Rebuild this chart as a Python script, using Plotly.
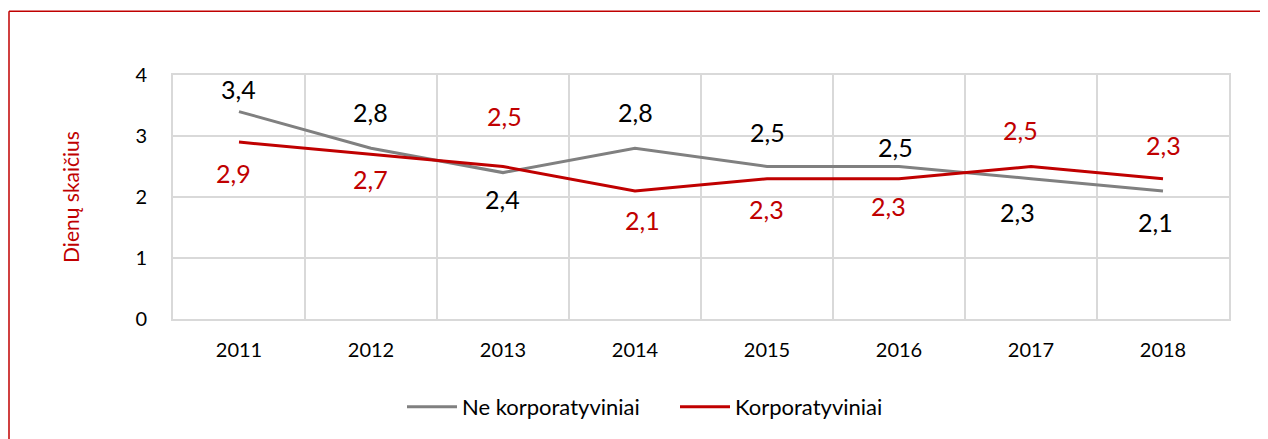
import plotly.graph_objects as go

years = ["2011", "2012", "2013", "2014", "2015", "2016", "2017", "2018"]
ne_korp = [3.4, 2.8, 2.4, 2.8, 2.5, 2.5, 2.3, 2.1]
korp = [2.9, 2.7, 2.5, 2.1, 2.3, 2.3, 2.5, 2.3]

# label offsets in pixels (positive = up / right), as placed in the original
ne_dy = [22, 35, -27, 35, 34, 19, -34, -32]
ne_dx = [-1, -1, -1, 0, 0, -4, -14, -8]
korp_dy = [-32, -26, 50, -30, -31, -28, 36, 33]
korp_dx = [-6, -1, 1, 7, -1, -11, -11, 0]

xs = list(range(len(years)))
FONT = "Lato, 'Liberation Sans', sans-serif"
GRAY = "#808080"
RED = "#c00000"

def fmt(v):
    return f"{v:.1f}".replace(".", ",")

fig = go.Figure()
fig.add_trace(go.Scatter(
    x=xs, y=ne_korp, name="Ne korporatyviniai", mode="lines",
    line=dict(color=GRAY, width=3),
))
fig.add_trace(go.Scatter(
    x=xs, y=korp, name="Korporatyviniai", mode="lines",
    line=dict(color=RED, width=3),
))

LBL_CORR = -1  # text box centre vs digit centre
for x, v, dy, dx in zip(xs, ne_korp, ne_dy, ne_dx):
    fig.add_annotation(x=x, y=v, text=fmt(v), showarrow=False,
                       xshift=dx, yshift=dy - LBL_CORR,
                       font=dict(size=25, color="#000000", family=FONT))
for x, v, dy, dx in zip(xs, korp, korp_dy, korp_dx):
    fig.add_annotation(x=x, y=v, text=fmt(v), showarrow=False,
                       xshift=dx, yshift=dy - LBL_CORR,
                       font=dict(size=25, color=RED, family=FONT))

# page has an 8px body margin; compensate so the figure lines up with the 1268x439 view
OFF = 8
W, H = 1268 - OFF, 439 - OFF
L, R, T, B = 173 - OFF, 1229 - OFF, 75 - OFF, 320 - OFF
pw, ph = R - L, B - T

fig.update_layout(
    width=W, height=H,
    margin=dict(l=L, r=W - R, t=T, b=H - B),
    paper_bgcolor="white", plot_bgcolor="white",
    font=dict(family=FONT, size=20, color="#000000"),
    showlegend=True,
    legend=dict(orientation="h", x=(399 - L - 5) / pw, xanchor="left",
                y=(B - (407 - OFF)) / ph, yanchor="middle",
                font=dict(size=22, family=FONT), itemwidth=50,
                entrywidth=208, entrywidthmode="pixels",
                traceorder="normal"),
    xaxis=dict(
        range=[-0.5, len(years) - 0.5],
        tickvals=xs, ticktext=years,
        showgrid=False, zeroline=False,
        showline=True, linecolor="#d9d9d9", linewidth=2, mirror=True,
        ticks="outside", ticklen=12, tickcolor="rgba(0,0,0,0)",
        minor=dict(tickvals=[i - 0.5 for i in range(len(years) + 1)],
                   showgrid=True, gridcolor="#d9d9d9", gridwidth=2),
        tickfont=dict(size=20, family=FONT),
    ),
    yaxis=dict(
        range=[0, 4], tickvals=[0, 1, 2, 3, 4],
        showgrid=True, gridcolor="#d9d9d9", gridwidth=2,
        zeroline=False,
        showline=True, linecolor="#d9d9d9", linewidth=2, mirror=True,
        ticks="outside", ticklen=20, tickcolor="rgba(0,0,0,0)",
        tickfont=dict(size=20, family=FONT),
        title=dict(text="Dienų skaičius", font=dict(size=21, color=RED, family=FONT),
                   standoff=50),
    ),
)

fx0 = (9 - OFF - L) / pw
fy1 = (B - (11 - OFF)) / ph
fig.add_shape(type="line", xref="paper", yref="paper",
              x0=fx0, x1=(W + 40 - L) / pw, y0=fy1, y1=fy1,
              line=dict(color=RED, width=1.5), layer="below")
fig.add_shape(type="line", xref="paper", yref="paper",
              x0=fx0, x1=fx0, y0=fy1, y1=(B - (H + 40)) / ph,
              line=dict(color=RED, width=1.5), layer="below")

fig.write_html("out.html")
